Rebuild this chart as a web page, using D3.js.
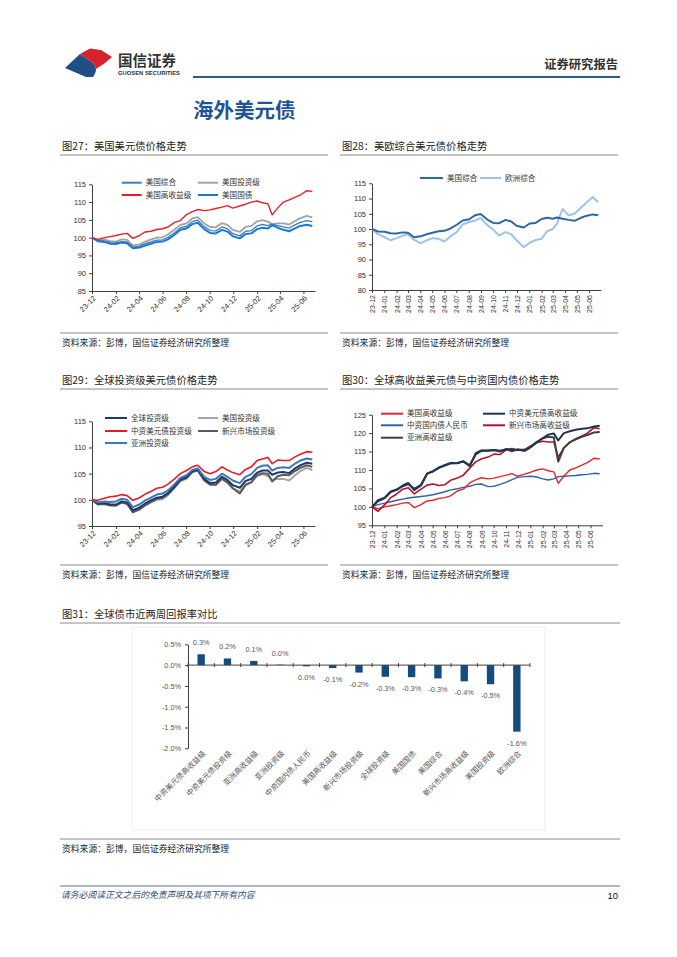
<!DOCTYPE html>
<html><head><meta charset="utf-8">
<script src="https://cdn.jsdelivr.net/npm/d3@7"></script>
<style>
body{margin:0;background:#fff;}
svg{display:block;font-family:"Noto Sans CJK SC","Noto Sans",sans-serif;}
</style>
</head><body>
<svg id="c" width="677" height="957"></svg>
<script>
// ---------- data ----------
const dates = ["2023-12-28","2024-01-12","2024-01-29","2024-02-13","2024-02-28","2024-03-14","2024-03-28","2024-04-12","2024-04-29","2024-05-14","2024-05-29","2024-06-13","2024-06-28","2024-07-12","2024-07-29","2024-08-13","2024-08-29","2024-09-13","2024-09-27","2024-10-14","2024-10-29","2024-11-13","2024-11-29","2024-12-13","2024-12-27","2025-01-14","2025-01-29","2025-02-13","2025-02-28","2025-03-14","2025-03-28","2025-04-08","2025-04-22","2025-05-07","2025-05-22","2025-06-06","2025-06-20","2025-07-07","2025-07-21"];

const usAgg   = [100,99.2,99.1,98.6,98.5,98.9,98.8,97.3,97.6,98.3,98.8,99.3,99.4,100.1,101.4,102.8,103.2,104.5,104.9,103.1,102.0,101.9,103.0,102.5,101.1,100.5,101.8,102.0,103.3,103.7,103.4,103.8,103.4,103.0,102.7,103.6,104.3,104.8,104.5];
const usIG    = [100,99.4,99.5,99.0,98.9,99.5,99.4,97.8,98.1,98.9,99.5,100.0,100.1,100.9,102.3,103.6,104.0,105.4,105.8,104.0,103.0,102.9,104.1,103.6,102.2,101.6,103.0,103.3,104.6,104.9,104.5,103.8,104.0,104.0,103.7,104.7,105.5,106.1,105.7];
const usHY    = [100,99.5,100.0,100.3,100.6,101.0,101.2,99.8,100.6,101.6,101.8,102.3,102.5,103.0,104.3,104.8,106.5,107.3,107.9,107.6,107.8,108.2,108.6,109.0,108.3,108.9,109.4,110.0,110.3,109.8,109.5,106.4,108.3,110.0,110.6,111.3,112.0,113.2,113.0];
const usTsy   = [100,99.0,98.8,98.3,98.2,98.6,98.4,97.0,97.2,97.8,98.3,98.8,98.9,99.5,100.8,102.2,102.6,103.8,104.2,102.4,101.3,101.2,102.2,101.7,100.4,99.8,101.0,101.2,102.4,102.8,102.6,103.5,102.8,102.2,101.8,102.6,103.3,103.6,103.3];
const euAgg   = [100,98.3,97.3,96.3,97.0,97.8,98.3,96.5,95.3,96.3,97.0,96.8,95.9,97.5,99.0,101.5,102.3,102.8,103.6,101.3,99.8,97.8,99.0,98.3,96.3,94.0,95.5,96.4,96.8,99.3,100.0,101.8,106.6,104.5,105.0,106.8,108.5,110.5,108.8];

const globalIG = [100,99.3,99.4,99.1,99.1,99.7,99.5,98.0,98.5,99.3,99.9,100.4,100.6,101.3,102.6,103.9,104.3,105.5,105.8,104.0,103.2,103.3,104.4,103.8,102.8,102.3,103.6,104.0,105.2,105.6,105.6,104.8,105.2,105.3,105.1,106.0,106.6,107.1,106.9];
const cnIG     = [100,99.9,100.3,100.6,100.7,101.0,100.8,99.9,100.4,101.1,101.6,102.2,102.4,103.0,104.0,105.0,105.6,106.3,106.6,105.4,105.0,105.4,106.3,105.7,105.2,104.8,105.8,106.3,107.5,107.8,108.1,106.9,107.6,107.5,107.5,108.2,108.7,109.2,109.1];
const emIG     = [100,99.1,99.2,98.9,98.9,99.5,99.2,97.6,98.2,99.0,99.6,100.2,100.4,101.1,102.4,103.7,104.2,105.3,105.6,103.7,102.9,102.9,104.0,103.3,102.2,101.2,102.8,103.4,104.7,105.1,105.0,103.5,104.5,104.8,104.7,105.5,106.1,106.6,106.3];
const asiaIG   = [100,99.5,99.7,99.6,99.7,100.2,100.0,98.6,99.1,99.9,100.4,101.0,101.2,101.8,103.0,104.2,104.7,105.7,106.0,104.4,103.8,104.0,105.0,104.4,103.7,103.2,104.4,104.9,106.1,106.5,106.6,105.6,106.1,106.2,106.1,106.9,107.5,107.9,107.7];

const cnHY     = [100,101.8,102.5,104.2,104.7,105.6,106.2,104.9,106.0,109.0,109.6,110.6,111.2,111.8,111.9,112.3,111.3,114.2,115.2,115.2,115.4,115.2,115.6,115.4,115.5,115.2,116.2,117.5,118.6,119.6,119.9,118.0,120.0,120.5,120.9,121.2,121.3,121.8,122.0];
const cnDom    = [100,100.6,101.0,101.4,101.8,102.1,102.4,102.6,102.8,103.0,103.3,103.7,104.1,104.6,104.9,105.3,105.6,106.1,106.2,105.5,105.6,106.1,106.7,107.4,108.0,108.2,108.3,108.1,107.6,107.3,107.6,108.2,108.3,108.4,108.5,108.7,108.8,109.1,109.0];
const emHY     = [100,98.8,100.6,102.5,103.5,104.8,105.2,103.5,104.8,105.9,106.2,105.8,106.0,107.2,107.8,108.6,110.5,112.2,113.0,113.5,114.3,114.2,115.5,115.8,115.4,115.6,116.5,117.4,117.8,117.6,117.6,113.5,116.0,117.5,118.5,119.2,120.0,121.5,121.2];
const asiaHY   = [100,101.5,102.4,104.0,104.6,105.8,106.5,104.5,105.8,109.0,109.7,110.7,111.4,111.9,111.8,112.4,111.0,114.6,115.3,115.3,115.4,115.0,115.7,115.1,115.6,115.3,116.3,117.6,118.6,119.0,118.8,112.3,116.0,117.5,118.3,119.0,119.5,120.2,120.3];

const barCategories = ["中资美元债高收益级","中资美元债投资级","亚洲高收益级","亚洲投资级","中资国内债人民币","美国高收益级","新兴市场投资级","全球投资级","美国国债","美国综合","新兴市场高收益级","美国投资级","欧洲综合"];
const barValues = [0.26,0.16,0.10,0.01,-0.03,-0.07,-0.18,-0.28,-0.29,-0.32,-0.39,-0.46,-1.60];
const barTicks = [-2.0,-1.5,-1.0,-0.5,0.0,0.5];

// ---------- helpers ----------
const parse = d3.timeParse("%Y-%m-%d");
const D = dates.map(parse);
const start = parse("2023-12-28");
const svg = d3.select("#c");
const NUM = '"Liberation Sans",Arial,sans-serif';

function frame(x0, x1, title, lineY, srcLineY) {
  svg.append("text").attr("x", x0 + 2).attr("y", lineY - 5).text(title)
    .attr("font-size", 10.3).attr("fill", "#222");
  svg.append("line").attr("x1", x0).attr("x2", x1).attr("y1", lineY).attr("y2", lineY)
    .attr("stroke", "#8a8a8a").attr("stroke-width", 1);
  svg.append("line").attr("x1", x0).attr("x2", x1).attr("y1", srcLineY).attr("y2", srcLineY)
    .attr("stroke", "#8a8a8a").attr("stroke-width", 1);
  svg.append("text").attr("x", x0 + 2).attr("y", srcLineY + 13).text("资料来源：彭博，国信证券经济研究所整理")
    .attr("font-size", 8.8).attr("fill", "#222");
}

function styleAxis(a) {
  a.select(".domain").attr("stroke", "#404040").attr("stroke-width", 1);
  a.selectAll(".tick line").attr("stroke", "#404040");
  a.selectAll("text").attr("font-size", 7.5).attr("fill", "#333").attr("font-family", NUM);
}

function lineChart(o) {
  const g = svg.append("g");
  const x = d3.scaleTime().domain([start, d3.timeMonth.offset(start, 19)]).range([o.x0, o.x1]);
  const y = d3.scaleLinear().domain([o.yMin, o.yMax]).range([o.yBot, o.yTop]);
  const yTicks = d3.range(o.yMin, o.yMax + 0.01, o.yStep);
  const ya = g.append("g").attr("transform", `translate(${o.x0},0)`)
    .call(d3.axisLeft(y).tickValues(yTicks).tickSize(3).tickPadding(3).tickSizeOuter(0).tickFormat(d3.format("d")));
  styleAxis(ya);
  const xTicks = d3.range(0, 19, o.every).map(i => d3.timeMonth.offset(start, i));
  const xa = g.append("g").attr("transform", `translate(0,${o.yBot})`)
    .call(d3.axisBottom(x).tickValues(xTicks).tickSize(3).tickSizeOuter(0).tickFormat(d3.timeFormat("%y-%m")));
  styleAxis(xa);
  if (o.vert) {
    xa.selectAll("text").attr("x", 0).attr("y", 0).attr("dy", "0.35em")
      .attr("text-anchor", "end").attr("transform", "translate(0,5) rotate(-90)").attr("font-size", 7);
  } else {
    xa.selectAll("text").attr("x", 0).attr("y", 0).attr("dy", "0.35em")
      .attr("text-anchor", "end").attr("transform", "translate(2,6) rotate(-45)");
  }
  const line = d3.line().x((d, i) => x(D[i])).y(d => y(d)).curve(d3.curveLinear);
  o.series.forEach(s => {
    g.append("path").datum(s.data).attr("d", line).attr("fill", "none")
      .attr("stroke", s.color).attr("stroke-width", s.w).attr("stroke-linejoin", "round");
  });
  o.legend.forEach(l => {
    const s = o.series.find(q => q.name === l.name);
    g.append("line").attr("x1", l.x).attr("x2", l.x + l.len).attr("y1", l.y).attr("y2", l.y)
      .attr("stroke", s.color).attr("stroke-width", Math.max(2, s.w));
    g.append("text").attr("x", l.x + l.len + 4).attr("y", l.y).attr("dy", "0.35em")
      .text(l.name).attr("font-size", 7.6).attr("fill", "#333");
  });
}

// ---------- header ----------
svg.append("path").attr("d", "M65,68 L80,54 C83,56 86,58 89,60 C93,62 95,65 96,69 C96,72 95,74 93,77 L86,77 Z").attr("fill", "#1f4f86");
svg.append("path").attr("d", "M80,54 L90,48.5 L101,50 L112,57 L105,63 L96,69 C95,65 93,62 89,60 C86,58 83,56 80,54 Z").attr("fill", "#d7212b");
svg.append("text").attr("x", 118).attr("y", 66).text("国信证券").attr("font-size", 14.5).attr("font-weight", "bold").attr("fill", "#333");
svg.append("text").attr("x", 118).attr("y", 74.5).text("GUOSEN SECURITIES").attr("font-size", 5).attr("font-weight", "bold")
  .attr("fill", "#333").attr("font-family", NUM).attr("textLength", 62).attr("lengthAdjust", "spacingAndGlyphs");
svg.append("line").attr("x1", 193).attr("x2", 620).attr("y1", 77).attr("y2", 77).attr("stroke", "#2e5b8c").attr("stroke-width", 2);
svg.append("text").attr("x", 618).attr("y", 69).attr("text-anchor", "end").text("证券研究报告")
  .attr("font-size", 12.3).attr("font-weight", "bold").attr("fill", "#333");
svg.append("text").attr("x", 193).attr("y", 118).text("海外美元债").attr("font-size", 20.5).attr("font-weight", "bold").attr("fill", "#1f5597");

// ---------- frames ----------
frame(60, 328, "图27：美国美元债价格走势", 155, 333);
frame(340, 618, "图28：美欧综合美元债价格走势", 155, 333);
frame(60, 328, "图29：全球投资级美元债价格走势", 389, 565);
frame(340, 618, "图30：全球高收益美元债与中资国内债价格走势", 389, 565);
frame(60, 620, "图31：全球债市近两周回报率对比", 623, 839);

// ---------- chart 27 ----------
lineChart({
  x0: 92, x1: 315, yTop: 184.3, yBot: 291, yMin: 85, yMax: 115, yStep: 5, every: 2, vert: false,
  series: [
    {name: "美国投资级", data: usIG, color: "#a3a3a3", w: 1.8},
    {name: "美国综合", data: usAgg, color: "#3d7cc4", w: 1.3},
    {name: "美国国债", data: usTsy, color: "#1a7ad0", w: 2},
    {name: "美国高收益级", data: usHY, color: "#e3202a", w: 1.4}
  ],
  legend: [
    {name: "美国综合", x: 121.7, y: 182.7, len: 20},
    {name: "美国投资级", x: 198, y: 182.7, len: 20},
    {name: "美国高收益级", x: 121.7, y: 195, len: 20},
    {name: "美国国债", x: 198, y: 195, len: 20}
  ]
});

// ---------- chart 28 ----------
lineChart({
  x0: 372, x1: 601, yTop: 183.3, yBot: 290, yMin: 80, yMax: 115, yStep: 5, every: 1, vert: true,
  series: [
    {name: "欧洲综合", data: euAgg, color: "#9dc3e6", w: 2},
    {name: "美国综合", data: usAgg, color: "#2f66a6", w: 2}
  ],
  legend: [
    {name: "美国综合", x: 420, y: 178, len: 23},
    {name: "欧洲综合", x: 480, y: 178, len: 21}
  ]
});

// ---------- chart 29 ----------
lineChart({
  x0: 92, x1: 315, yTop: 421.3, yBot: 526, yMin: 95, yMax: 115, yStep: 5, every: 2, vert: false,
  series: [
    {name: "美国投资级", data: usIG, color: "#a6a6a6", w: 2},
    {name: "新兴市场投资级", data: emIG, color: "#5a5a5a", w: 2},
    {name: "全球投资级", data: globalIG, color: "#1f3a64", w: 2},
    {name: "亚洲投资级", data: asiaIG, color: "#3b78c0", w: 2},
    {name: "中资美元债投资级", data: cnIG, color: "#e31e24", w: 1.6}
  ],
  legend: [
    {name: "全球投资级", x: 105, y: 418, len: 22},
    {name: "美国投资级", x: 198, y: 418, len: 20},
    {name: "中资美元债投资级", x: 105, y: 431, len: 22},
    {name: "新兴市场投资级", x: 198, y: 431, len: 20},
    {name: "亚洲投资级", x: 105, y: 443, len: 22}
  ]
});

// ---------- chart 30 ----------
lineChart({
  x0: 372, x1: 602.5, yTop: 414.7, yBot: 525.3, yMin: 95, yMax: 125, yStep: 5, every: 1, vert: true,
  series: [
    {name: "中资国内债人民币", data: cnDom, color: "#2c64a6", w: 1.4},
    {name: "美国高收益级", data: usHY, color: "#e8262b", w: 1.4},
    {name: "新兴市场高收益级", data: emHY, color: "#b0142c", w: 1.6},
    {name: "亚洲高收益级", data: asiaHY, color: "#404040", w: 2},
    {name: "中资美元债高收益级", data: cnHY, color: "#1f3450", w: 2}
  ],
  legend: [
    {name: "美国高收益级", x: 381, y: 413.7, len: 22},
    {name: "中资美元债高收益级", x: 483, y: 413.7, len: 22},
    {name: "中资国内债人民币", x: 381, y: 425.3, len: 22},
    {name: "新兴市场高收益级", x: 483, y: 425.3, len: 22},
    {name: "亚洲高收益级", x: 381, y: 437.7, len: 22}
  ]
});

// ---------- chart 31 ----------
(function () {
  const g = svg.append("g");
  g.append("rect").attr("x", 132).attr("y", 627).attr("width", 413).attr("height", 203)
    .attr("fill", "none").attr("stroke", "#ededed");
  const xb = d3.scaleBand().domain(barCategories).range([188, 530]).paddingInner(0.72).paddingOuter(0.36);
  const yb = d3.scaleLinear().domain([-2, 0.5]).range([748.3, 644.3]);
  const ya = g.append("g").attr("transform", "translate(188,0)")
    .call(d3.axisLeft(yb).tickValues(barTicks).tickSize(3).tickPadding(4).tickSizeOuter(0).tickFormat(v => v.toFixed(1) + "%"));
  styleAxis(ya);
  ya.selectAll("text").attr("fill", "#555").attr("font-size", 7.3);
  const y0 = yb(0);
  // bars
  g.selectAll("rect.bar").data(barCategories).enter().append("rect").attr("class", "bar")
    .attr("x", c => xb(c)).attr("width", xb.bandwidth())
    .attr("y", (c, i) => yb(Math.max(0, barValues[i])))
    .attr("height", (c, i) => Math.abs(yb(barValues[i]) - y0))
    .attr("fill", "#154c7e");
  // zero axis with ticks at category boundaries
  const edges = d3.range(barCategories.length + 1).map(i => 188 + i * xb.step());
  g.append("line").attr("x1", 188).attr("x2", 530).attr("y1", y0).attr("y2", y0).attr("stroke", "#404040");
  g.selectAll("line.bt").data(edges).enter().append("line").attr("class", "bt")
    .attr("x1", d => d).attr("x2", d => d).attr("y1", y0 - 2).attr("y2", y0 + 2).attr("stroke", "#404040");
  // value labels
  g.selectAll("text.val").data(barCategories).enter().append("text").attr("class", "val")
    .attr("x", c => xb(c) + xb.bandwidth() / 2)
    .attr("y", (c, i) => barValues[i] >= 0 ? yb(barValues[i]) - 11.5 : yb(barValues[i]) + 11.5)
    .attr("dy", "0.35em").attr("text-anchor", "middle")
    .attr("font-size", 7.3).attr("fill", "#555").attr("font-family", NUM)
    .text((c, i) => { const r = Math.round(barValues[i] * 10) / 10; return (r === 0 ? "0.0" : r.toFixed(1)) + "%"; });
  // category labels
  g.selectAll("text.cat").data(barCategories).enter().append("text").attr("class", "cat")
    .attr("transform", c => `translate(${xb(c) + xb.bandwidth() / 2 + 3},${752}) rotate(-45)`)
    .attr("dy", "0.35em").attr("text-anchor", "end")
    .attr("font-size", 7.6).attr("fill", "#555").text(c => c);
})();

// ---------- footer ----------
svg.append("line").attr("x1", 60).attr("x2", 620).attr("y1", 886).attr("y2", 886).attr("stroke", "#5d7591").attr("stroke-width", 1);
svg.append("text").attr("x", 61).attr("y", 898).text("请务必阅读正文之后的免责声明及其项下所有内容")
  .attr("font-size", 8.8).attr("font-style", "italic").attr("fill", "#2b4a78");
svg.append("text").attr("x", 618).attr("y", 899).attr("text-anchor", "end").text("10")
  .attr("font-size", 9.5).attr("fill", "#111").attr("font-family", NUM);
</script>
</body></html>
